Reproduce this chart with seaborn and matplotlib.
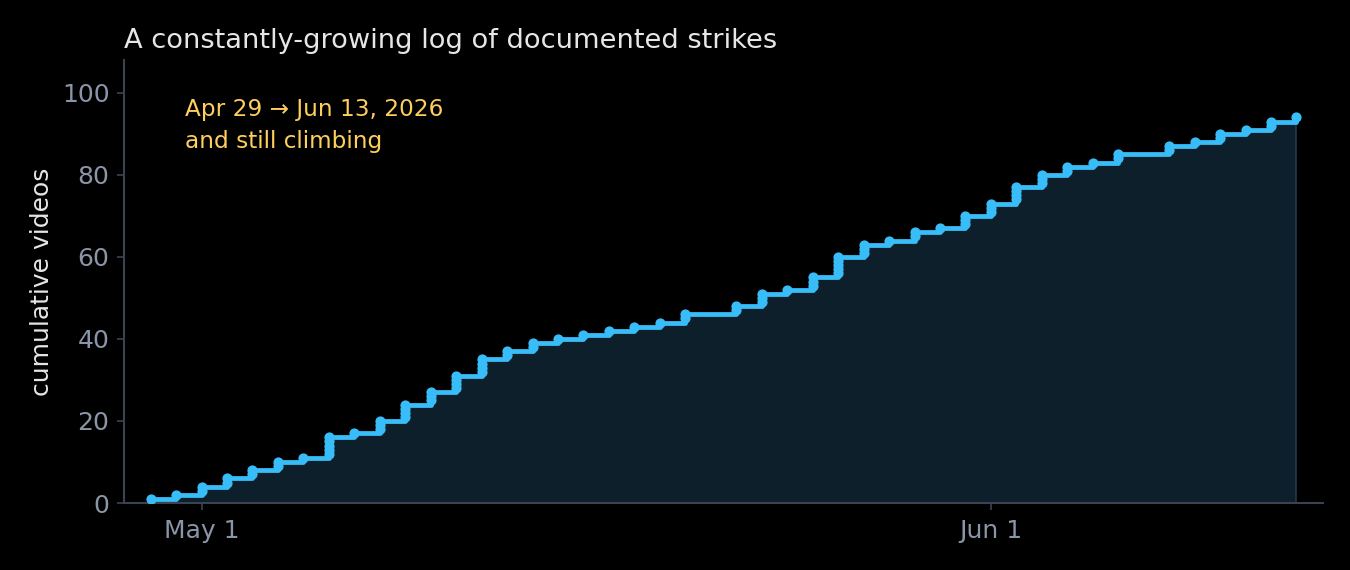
import pandas as pd
import numpy as np
import seaborn as sns
import matplotlib.pyplot as plt
import matplotlib.dates as mdates

# Videos documented per day
days = pd.date_range('2026-04-29', '2026-06-13', freq='D')
per_day = [1, 1, 2, 2, 2, 2, 1, 5, 1, 3, 4, 3, 4, 4, 2, 2, 1, 1, 1, 1, 1, 2, 0,
           2, 3, 1, 3, 5, 3, 1, 2, 1, 3, 3, 4, 3, 2, 1, 2, 0, 2, 1, 2, 1, 2, 1]
ytick_vals = [0, 20, 40, 60, 80, 100]

# One row per video, with running total
video_dates = np.repeat(days, per_day)
df = pd.DataFrame({'date': video_dates})
df['cum'] = np.arange(1, len(df) + 1)

line_color = '#38bdf8'
bg = '#000000'

sns.set_theme(style='dark')
plt.rcParams['font.family'] = ['DejaVu Sans']

fig = plt.figure(figsize=(9, 3.8), dpi=150, facecolor=bg)
ax = fig.add_axes([0.0919, 0.1175, 0.8881, 0.7772])
ax.set_facecolor(bg)

# Shaded area under the step curve
ax.fill_between(df['date'], df['cum'], step='post', facecolor='#0c1f2b',
                edgecolor='#1f3b4b', linewidth=0.8, zorder=1)

sns.lineplot(data=df, x='date', y='cum', estimator=None, sort=False,
             drawstyle='steps-post', color=line_color, linewidth=2.3,
             solid_joinstyle='round', solid_capstyle='round', ax=ax, zorder=3)
sns.scatterplot(data=df, x='date', y='cum', color=line_color, s=24,
                linewidth=0, ax=ax, zorder=4)

ax.set_xlim(pd.Timestamp('2026-04-27 23:00'), pd.Timestamp('2026-06-14 01:00'))
ax.set_ylim(0, 108)
ax.set_yticks(ytick_vals)

ax.xaxis.set_major_locator(mdates.MonthLocator())
ax.xaxis.set_major_formatter(mdates.DateFormatter('%b %-d'))

for side in ['top', 'right']:
    ax.spines[side].set_visible(False)
for side in ['left', 'bottom']:
    ax.spines[side].set_visible(True)
    ax.spines[side].set_color('#3b4352')
    ax.spines[side].set_linewidth(1.0)
ax.grid(False)
ax.tick_params(axis='both', colors='#3b4352', labelcolor='#8b95a8',
               labelsize=12, length=3.5, width=0.8, bottom=True, left=True)
ax.tick_params(axis='x', pad=4)

ax.set_xlabel('')
ax.set_ylabel('cumulative videos', color='#e6e6e6', fontsize=12, labelpad=4)
ax.set_title('A constantly-growing log of documented strikes', loc='left',
             color='#e6e6e6', fontsize=13.1, pad=6)

ax.text(0.051, 0.914, 'Apr 29 \u2192 Jun 13, 2026\nand still climbing',
        transform=ax.transAxes, color='#ffcf5c', fontsize=11.1,
        va='top', ha='left', linespacing=1.5)

fig.savefig('out.png', dpi=150, facecolor=bg)
